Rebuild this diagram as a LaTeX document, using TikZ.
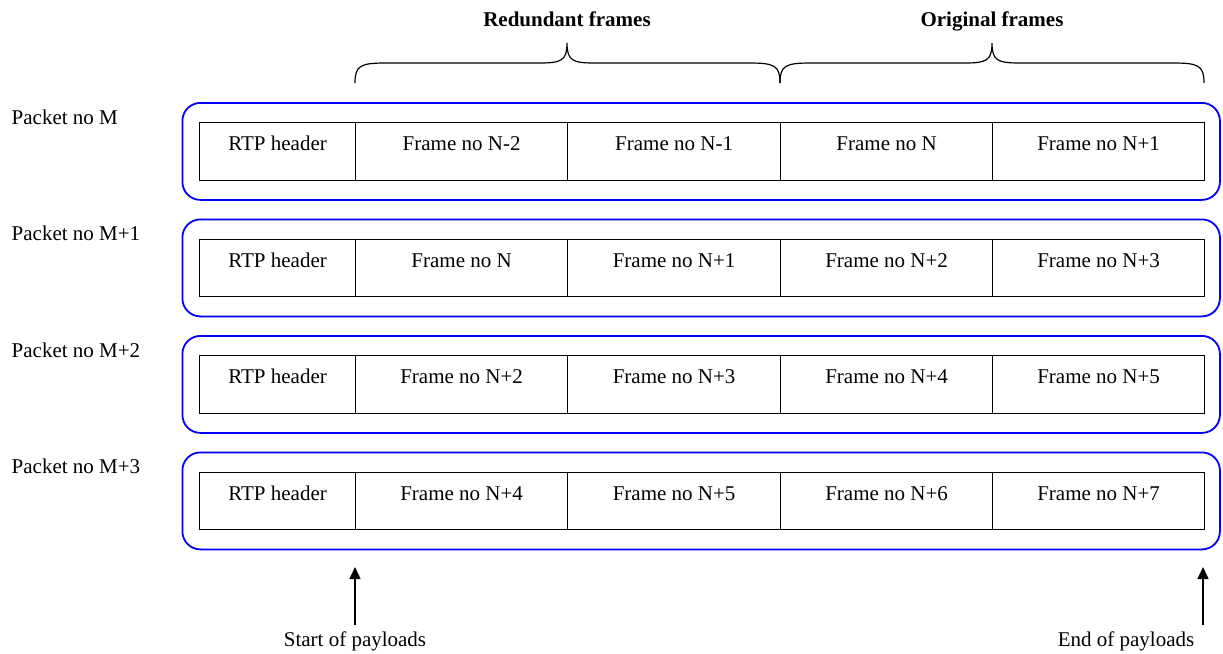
\documentclass[tikz,border=0pt]{standalone}
\usepackage{fontspec}
\setmainfont{Liberation Serif}
\usetikzlibrary{arrows.meta}
\begin{document}
\begin{tikzpicture}[x=1pt,y=1pt,
  every node/.style={font=\fontsize{21}{25}\selectfont},
  pktbox/.style={draw=blue,line width=1.8pt,rounded corners=18pt,minimum height=97pt,minimum width=1037.5pt,anchor=north west,inner sep=0pt},
  cellbox/.style={draw=black,line width=1.2pt,anchor=north west,inner xsep=0pt,inner ysep=0pt,text height=28pt,text depth=29.5pt},
  pktlabel/.style={anchor=base west,inner sep=0pt},
  headlabel/.style={anchor=base,inner sep=0pt,font=\fontsize{21}{25}\selectfont\bfseries},
  bracepath/.style={line width=1.2pt},
  arrowline/.style={line width=1.4pt,-{Triangle[length=12pt,width=11pt]}}
]
\useasboundingbox (0,0) rectangle (1223,-653);

% column left edges
\def\cA{199}\def\cB{355}\def\cC{567}\def\cD{780}\def\cE{992}
\foreach \r/\pl/\fa/\fb/\fc/\fd in {
  0/M/N-2/N-1/N/N+1,
  1/M+1/N/N+1/N+2/N+3,
  2/M+2/N+2/N+3/N+4/N+5,
  3/M+3/N+4/N+5/N+6/N+7}{
  \pgfmathsetmacro{\off}{\r*116.5}
  \node[pktbox] (pkt\r) at (181.5,-102-\off) {};
  \node[pktlabel] (plab\r) at (11.5,-124-\off) {Packet no \pl};
  \node[cellbox,minimum width=156pt] (rtp\r) at (\cA,-122-\off) {RTP header};
  \node[cellbox,minimum width=212pt] (fa\r) at (\cB,-122-\off) {Frame no \fa};
  \node[cellbox,minimum width=213pt] (fb\r) at (\cC,-122-\off) {Frame no \fb};
  \node[cellbox,minimum width=212pt] (fc\r) at (\cD,-122-\off) {Frame no \fc};
  \node[cellbox,minimum width=212pt] (fd\r) at (\cE,-122-\off) {Frame no \fd};
}

% headings
\node[headlabel] (red) at (567,-27) {Redundant frames};
\node[headlabel] (orig) at (992,-27) {Original frames};

% braces
\coordinate (b0) at (355,-83);
\coordinate (b1) at (780,-83);
\coordinate (b2) at (1204,-83);
\draw[bracepath] (b0) .. controls +(0,18) and +(-26,0) .. ++(32,20)
  -- (539,-63) .. controls +(22,0) and +(0,-18) .. (567,-43)
  .. controls +(0,-18) and +(-22,0) .. (595,-63)
  -- (748,-63) .. controls +(26,0) and +(0,18) .. (b1);
\draw[bracepath] (b1) .. controls +(0,18) and +(-26,0) .. ++(32,20)
  -- (964,-63) .. controls +(22,0) and +(0,-18) .. (992,-43)
  .. controls +(0,-18) and +(-22,0) .. (1020,-63)
  -- (1172,-63) .. controls +(26,0) and +(0,18) .. (b2);

% payload arrows
\node[anchor=base,inner sep=0pt] (slab) at (355,-646) {Start of payloads};
\coordinate (stop) at (355,-567);
\coordinate (sbot) at (355,-625);
\draw[arrowline] (sbot) -- (stop);
\node[anchor=base,inner sep=0pt] (elab) at (1126,-646) {End of payloads};
\coordinate (etop) at (1203,-567);
\coordinate (ebot) at (1203,-625);
\draw[arrowline] (ebot) -- (etop);
\end{tikzpicture}
\end{document}
